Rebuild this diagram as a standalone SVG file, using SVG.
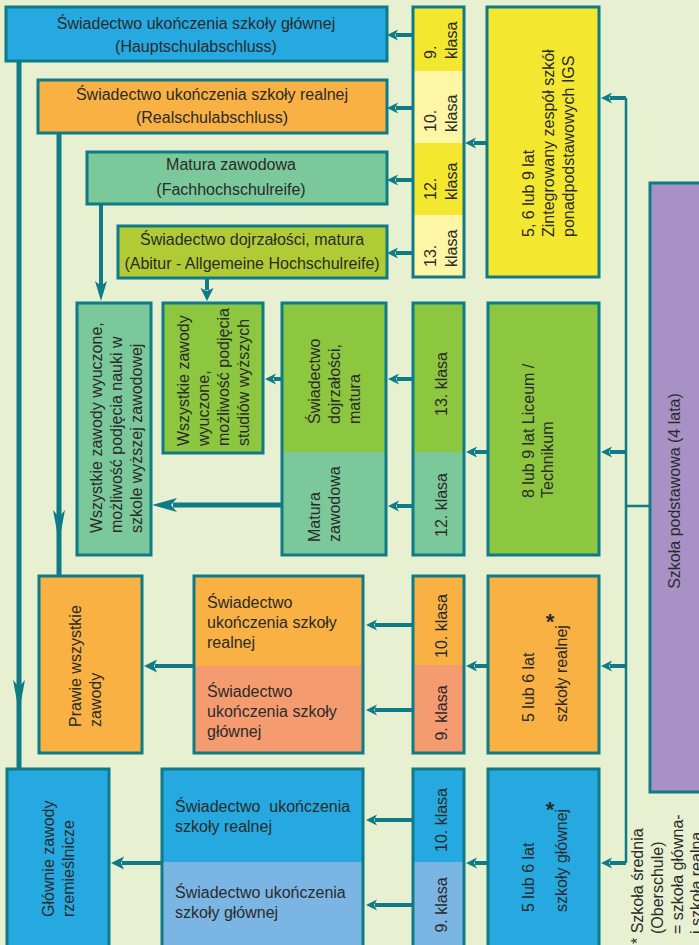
<svg xmlns="http://www.w3.org/2000/svg" xmlns:xlink="http://www.w3.org/1999/xlink" width="699" height="945" viewBox="0 0 699 945">
<defs>
<style>
.bx{stroke:#0e7b87;stroke-width:3}
.ol{fill:none;stroke:#0e7b87;stroke-width:3}
.t{font-family:"Liberation Sans",Arial,sans-serif;font-size:16px;fill:#2b2b2b}
.c{text-anchor:middle}
.sh{stroke:#0e7b87;stroke-width:4;fill:none}
.shb{stroke:#0e7b87;stroke-width:5;fill:none}
.thin{stroke:#0e7b87;stroke-width:2.5;fill:none}
.ah{fill:#0e7b87}
.ast{font-family:"Liberation Sans",Arial,sans-serif;font-size:22px;font-weight:bold;fill:#2b2b2b;text-anchor:middle}
</style>
<path id="hs" d="M0,0 L11,-5.5 L8,0 L11,5.5 Z"/>
<path id="hm" d="M0,0 L13,-6.5 L10,0 L13,6.5 Z"/>
<path id="hv" d="M0,0 L20,-6 L15,0 L20,6 Z"/>
<path id="hk" d="M0,0 L25,-7 L19,0 L25,7 Z"/>
<path id="hd" d="M0,0 L32,-6 L25,0 L32,6 Z"/>
</defs>
<rect x="0" y="0" width="699" height="945" fill="#e7f0d0"/>

<g id="connectors">
<line class="thin" x1="626" y1="98" x2="626" y2="863"/>
<line class="thin" x1="626" y1="506" x2="650" y2="506"/>
<g class="sh">
<line x1="413" y1="35" x2="396" y2="35"/>
<line x1="413" y1="108" x2="396" y2="108"/>
<line x1="413" y1="180" x2="396" y2="180"/>
<line x1="413" y1="253" x2="396" y2="253"/>
<line x1="487" y1="143" x2="474" y2="143"/>
<line x1="626" y1="98" x2="610" y2="98"/>
<line x1="626" y1="452" x2="610" y2="452"/>
<line x1="488" y1="452" x2="475" y2="452"/>
<line x1="413" y1="379" x2="397" y2="379"/>
<line x1="413" y1="506" x2="397" y2="506"/>
<line x1="282" y1="379" x2="274" y2="379"/>
<line x1="626" y1="666" x2="610" y2="666"/>
<line x1="488" y1="666" x2="475" y2="666"/>
<line x1="413" y1="625" x2="375" y2="625"/>
<line x1="413" y1="710" x2="375" y2="710"/>
<line x1="626" y1="863" x2="610" y2="863"/>
<line x1="488" y1="863" x2="475" y2="863"/>
<line x1="413" y1="820" x2="375" y2="820"/>
<line x1="413" y1="905" x2="375" y2="905"/>
<line x1="194" y1="666" x2="155" y2="666"/>
<line x1="162" y1="863" x2="122" y2="863"/>
<line x1="207" y1="278" x2="207" y2="290"/>
<line x1="101" y1="204" x2="101" y2="286"/>
</g>
<g class="shb">
<line x1="282" y1="505" x2="173" y2="505"/>
<line x1="19" y1="61" x2="19" y2="769"/>
<line x1="59" y1="133" x2="59" y2="576"/>
</g>
<g class="ah">
<use xlink:href="#hs" x="387" y="35"/>
<use xlink:href="#hs" x="387" y="108"/>
<use xlink:href="#hs" x="387" y="180"/>
<use xlink:href="#hs" x="387" y="253"/>
<use xlink:href="#hs" x="465" y="143"/>
<use xlink:href="#hs" x="601" y="98"/>
<use xlink:href="#hs" x="601" y="452"/>
<use xlink:href="#hs" x="466" y="452"/>
<use xlink:href="#hs" x="388" y="379"/>
<use xlink:href="#hs" x="388" y="506"/>
<use xlink:href="#hs" x="265" y="379"/>
<use xlink:href="#hs" x="601" y="666"/>
<use xlink:href="#hs" x="466" y="666"/>
<use xlink:href="#hs" x="366" y="625"/>
<use xlink:href="#hs" x="366" y="710"/>
<use xlink:href="#hs" x="601" y="863"/>
<use xlink:href="#hs" x="466" y="863"/>
<use xlink:href="#hs" x="366" y="820"/>
<use xlink:href="#hs" x="366" y="905"/>
<use xlink:href="#hm" x="144" y="666"/>
<use xlink:href="#hm" x="111" y="863"/>
<use xlink:href="#hm" transform="translate(207,301) rotate(-90)"/>
<use xlink:href="#hv" transform="translate(101,301) rotate(-90)"/>
<use xlink:href="#hk" x="152" y="505"/>
<use xlink:href="#hd" transform="translate(19,712) rotate(-90)"/>
<use xlink:href="#hd" transform="translate(59,542) rotate(-90)"/>
</g>
</g>

<g id="n-hauptschulabschluss">
<rect class="bx" x="6" y="7" width="381" height="54" fill="#25a9e0"/>
<text class="t c" x="196" y="29">Świadectwo ukończenia szkoły głównej</text>
<text class="t c" x="196" y="52">(Hauptschulabschluss)</text>
</g>
<g id="n-realschulabschluss">
<rect class="bx" x="38" y="80" width="349" height="53" fill="#f9b143"/>
<text class="t c" x="212" y="100">Świadectwo ukończenia szkoły realnej</text>
<text class="t c" x="212" y="123">(Realschulabschluss)</text>
</g>
<g id="n-fachhochschulreife">
<rect class="bx" x="87" y="152" width="300" height="52" fill="#7bc99a"/>
<text class="t c" x="231" y="170">Matura zawodowa</text>
<text class="t c" x="231" y="195">(Fachhochschulreife)</text>
</g>
<g id="n-abitur">
<rect class="bx" x="118" y="226" width="269" height="52" fill="#b1cb34"/>
<text class="t c" x="252" y="245">Świadectwo dojrzałości, matura</text>
<text class="t c" x="252" y="269">(Abitur - Allgemeine Hochschulreife)</text>
</g>

<g id="n-igs-klasy">
<rect x="413" y="7" width="51" height="64" fill="#f3e82f"/>
<rect x="413" y="71" width="51" height="72" fill="#fdf6a4"/>
<rect x="413" y="143" width="51" height="72" fill="#f3e82f"/>
<rect x="413" y="215" width="51" height="62" fill="#fdf6a4"/>
<rect class="ol" x="413" y="7" width="51" height="270"/>
<text class="t" transform="rotate(-90)"><tspan x="-59" y="436">9.</tspan><tspan x="-59" y="457">klasa</tspan></text>
<text class="t" transform="rotate(-90)"><tspan x="-132" y="436">10.</tspan><tspan x="-132" y="457">klasa</tspan></text>
<text class="t" transform="rotate(-90)"><tspan x="-200" y="436">12.</tspan><tspan x="-200" y="457">klasa</tspan></text>
<text class="t" transform="rotate(-90)"><tspan x="-267" y="436">13.</tspan><tspan x="-267" y="457">klasa</tspan></text>
</g>
<g id="n-igs">
<rect class="bx" x="487" y="7" width="112" height="270" fill="#f3e82f"/>
<text class="t" transform="rotate(-90)"><tspan x="-237" y="534">5, 6 lub 9 lat</tspan><tspan x="-237" y="554">Zintegrowany zespół szkół</tspan><tspan x="-237" y="574">ponadpodstawowych IGS</tspan></text>
</g>

<g id="n-podstawowa">
<rect class="bx" x="650" y="183" width="60" height="609" fill="#a892c5"/>
<text class="t c" transform="rotate(-90)" x="-491" y="680">Szkoła podstawowa (4 lata)</text>
</g>

<g id="n-zawody-wyzsza-zawodowa">
<rect class="bx" x="77" y="303" width="74" height="252" fill="#7bc99a"/>
<text class="t" transform="rotate(-90)"><tspan x="-533" y="102">Wszystkie zawody wyuczone,</tspan><tspan x="-533" y="122">możliwość podjęcia nauki w</tspan><tspan x="-533" y="142">szkole wyższej zawodowej</tspan></text>
</g>
<g id="n-zawody-studia">
<rect class="bx" x="163" y="303" width="100" height="150" fill="#8dc63f"/>
<text class="t" transform="rotate(-90)"><tspan x="-446" y="189">Wszystkie zawody</tspan><tspan x="-446" y="209">wyuczone,</tspan><tspan x="-446" y="229">możliwość podjęcia</tspan><tspan x="-446" y="249">studiów wyższych</tspan></text>
</g>
<g id="n-liceum-swiadectwa">
<rect x="282" y="303" width="104" height="149" fill="#8dc63f"/>
<rect x="282" y="452" width="104" height="103" fill="#7bc99a"/>
<rect class="ol" x="282" y="303" width="104" height="252"/>
<text class="t" transform="rotate(-90)"><tspan x="-424" y="320">Świadectwo</tspan><tspan x="-424" y="340">dojrzałości,</tspan><tspan x="-424" y="360">matura</tspan></text>
<text class="t" transform="rotate(-90)"><tspan x="-542" y="320">Matura</tspan><tspan x="-542" y="340">zawodowa</tspan></text>
</g>
<g id="n-liceum-klasy">
<rect x="413" y="303" width="51" height="149" fill="#8dc63f"/>
<rect x="413" y="452" width="51" height="103" fill="#7bc99a"/>
<rect class="ol" x="413" y="303" width="51" height="252"/>
<text class="t c" transform="rotate(-90)" x="-384" y="447">13. klasa</text>
<text class="t c" transform="rotate(-90)" x="-505" y="447">12. klasa</text>
</g>
<g id="n-liceum">
<rect class="bx" x="488" y="303" width="111" height="252" fill="#8dc63f"/>
<text class="t" transform="rotate(-90)"><tspan x="-498" y="534">8 lub 9 lat Liceum /</tspan><tspan x="-498" y="553">Technikum</tspan></text>
</g>

<g id="n-prawie-wszystkie">
<rect class="bx" x="39" y="576" width="103" height="177" fill="#f9b143"/>
<text class="t" transform="rotate(-90)"><tspan x="-727" y="81">Prawie wszystkie</tspan><tspan x="-727" y="101">zawody</tspan></text>
</g>
<g id="n-realna-swiadectwa">
<rect x="194" y="576" width="169" height="90" fill="#f9b143"/>
<rect x="194" y="666" width="169" height="87" fill="#f59b70"/>
<rect class="ol" x="194" y="576" width="169" height="177"/>
<text class="t"><tspan x="207" y="608">Świadectwo</tspan><tspan x="207" y="628">ukończenia szkoły</tspan><tspan x="207" y="648">realnej</tspan></text>
<text class="t"><tspan x="207" y="697">Świadectwo</tspan><tspan x="207" y="717">ukończenia szkoły</tspan><tspan x="207" y="737">głównej</tspan></text>
</g>
<g id="n-realna-klasy">
<rect x="413" y="576" width="51" height="89" fill="#f9b143"/>
<rect x="413" y="665" width="51" height="88" fill="#f59b70"/>
<rect class="ol" x="413" y="576" width="51" height="177"/>
<text class="t c" transform="rotate(-90)" x="-626" y="447">10. klasa</text>
<text class="t c" transform="rotate(-90)" x="-713" y="447">9. klasa</text>
</g>
<g id="n-szkola-realna">
<rect class="bx" x="488" y="576" width="111" height="177" fill="#f9b143"/>
<text class="t" transform="rotate(-90)"><tspan x="-722" y="534">5 lub 6 lat</tspan><tspan x="-722" y="567">szkoły realnej</tspan></text>
<text class="ast" x="550" y="629">*</text>
</g>

<g id="n-rzemieslnicze">
<rect class="bx" x="7" y="769" width="102" height="185" fill="#25a9e0"/>
<text class="t" transform="rotate(-90)"><tspan x="-917" y="54">Głównie zawody</tspan><tspan x="-917" y="74">rzemieślnicze</tspan></text>
</g>
<g id="n-glowna-swiadectwa">
<rect x="162" y="769" width="201" height="93" fill="#25a9e0"/>
<rect x="162" y="862" width="201" height="92" fill="#7bb5e3"/>
<rect class="ol" x="162" y="769" width="201" height="185"/>
<text class="t"><tspan x="175" y="812">Świadectwo&#160; ukończenia</tspan><tspan x="175" y="832">szkoły realnej</tspan></text>
<text class="t"><tspan x="175" y="898">Świadectwo ukończenia</tspan><tspan x="175" y="918">szkoły głównej</tspan></text>
</g>
<g id="n-glowna-klasy">
<rect x="413" y="769" width="51" height="93" fill="#25a9e0"/>
<rect x="413" y="862" width="51" height="92" fill="#7bb5e3"/>
<rect class="ol" x="413" y="769" width="51" height="185"/>
<text class="t c" transform="rotate(-90)" x="-820" y="447">10. klasa</text>
<text class="t c" transform="rotate(-90)" x="-905" y="447">9. klasa</text>
</g>
<g id="n-szkola-glowna">
<rect class="bx" x="488" y="769" width="111" height="185" fill="#25a9e0"/>
<text class="t" transform="rotate(-90)"><tspan x="-912" y="534">5 lub 6 lat</tspan><tspan x="-912" y="567">szkoły głównej</tspan></text>
<text class="ast" x="550" y="817">*</text>
</g>

<g id="footnote">
<text class="t" transform="rotate(-90)"><tspan x="-944" y="643">* Szkoła średnia</tspan><tspan x="-934" y="663">(Oberschule)</tspan><tspan x="-934" y="683">= szkoła główna-</tspan><tspan x="-934" y="702">i szkoła realna</tspan></text>
</g>
</svg>
